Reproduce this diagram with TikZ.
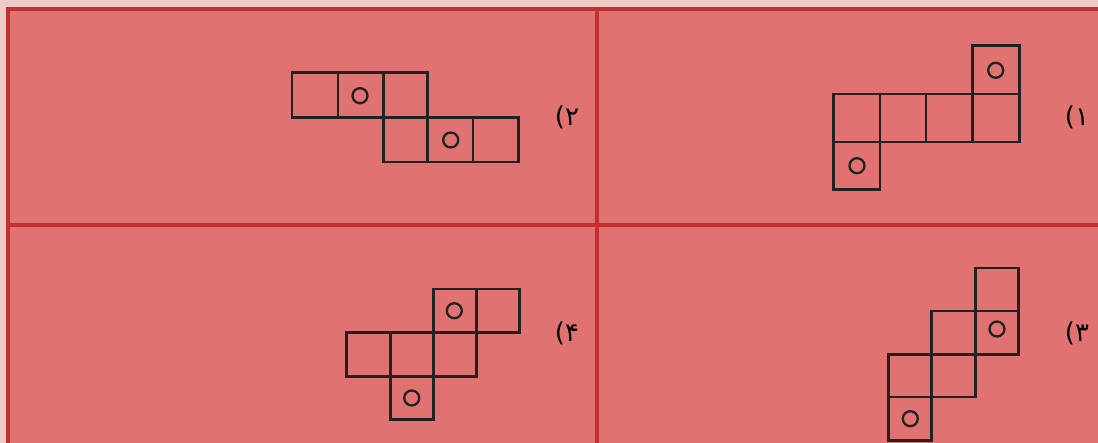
\documentclass[tikz,border=0pt]{standalone}
\usepackage{fontspec}
\newfontfamily\arabicfont[Script=Arabic]{DejaVu Sans}
\definecolor{outerpink}{RGB}{239,203,199}
\definecolor{cellfill}{RGB}{224,115,113}
\definecolor{framered}{RGB}{198,47,47}
\definecolor{ink}{RGB}{34,34,34}
\tikzset{
  sq/.style={draw=ink, line width=2.6pt},
  dot/.style={draw=ink, line width=2.3pt},
  frame/.style={draw=framered, line width=4pt},
  lbl/.style={font=\arabicfont\fontsize{26}{30}\selectfont, text=black, inner sep=0pt}
}
\begin{document}
\begin{tikzpicture}[x=1pt,y=-1pt]
\useasboundingbox (0,0) rectangle (1098,443);
\fill[outerpink] (0,0) rectangle (1098,443);
\begin{scope}
\clip (0,0) rectangle (1098,443);
\fill[cellfill] (8,9) rectangle (1120,470);
\draw[frame] (8,470) -- (8,9) -- (1120,9);
\draw[frame] (597,9) -- (597,470);
\draw[frame] (8,225.5) -- (1120,225.5);
\end{scope}

% Figure 1
\draw[sq] (833.7,94) rectangle (1019.3,142);
\draw[sq] (880,94) -- (880,142) (926,94) -- (926,142) (972.3,94) -- (972.3,142);
\draw[sq] (972.3,45.7) rectangle (1019.3,94);
\draw[sq] (833.7,142) rectangle (880,189.3);
\draw[dot] (995.7,70.3) circle (7.5);
\draw[dot] (857,165.7) circle (7.5);
\node[lbl] (l1) at (1077,117) {۱)};

% Figure 2
\draw[sq] (292,72.7) rectangle (427.7,117.3);
\draw[sq] (338,72.7) -- (338,117.3) (383.3,72.7) -- (383.3,117.3);
\draw[sq] (383.3,117.3) rectangle (518.3,162);
\draw[sq] (427.7,117.3) -- (427.7,162) (473,117.3) -- (473,162);
\draw[dot] (360,95.7) circle (7.5);
\draw[dot] (450.7,140) circle (7.5);
\node[lbl] (l2) at (567,117) {۲)};

% Figure 3
\draw[sq] (975.7,268) rectangle (1018.3,354.3);
\draw[sq] (931.7,311) rectangle (975.7,397);
\draw[sq] (888.3,354.3) rectangle (931.7,440.3);
\draw[sq] (975.7,311) -- (1018.3,311);
\draw[sq] (931.7,354.3) -- (975.7,354.3);
\draw[sq] (888.3,397) -- (931.7,397);
\draw[sq] (888.3,354.3) -- (931.7,354.3);
\draw[dot] (997,329) circle (7.5);
\draw[dot] (910.3,418.7) circle (7.5);
\node[lbl] (l3) at (1077,333) {۳)};

% Figure 4
\draw[sq] (433.3,289) rectangle (519.3,332.3);
\draw[sq] (476.3,289) -- (476.3,332.3);
\draw[sq] (346.7,332.3) rectangle (476.3,376.3);
\draw[sq] (390.3,332.3) -- (390.3,376.3) (433.3,332.3) -- (433.3,376.3);
\draw[sq] (390.3,376.3) rectangle (433.3,419.7);
\draw[dot] (454.3,310.7) circle (7.5);
\draw[dot] (411.7,398) circle (7.5);
\node[lbl] (l4) at (567,333) {۴)};
\end{tikzpicture}
\end{document}
